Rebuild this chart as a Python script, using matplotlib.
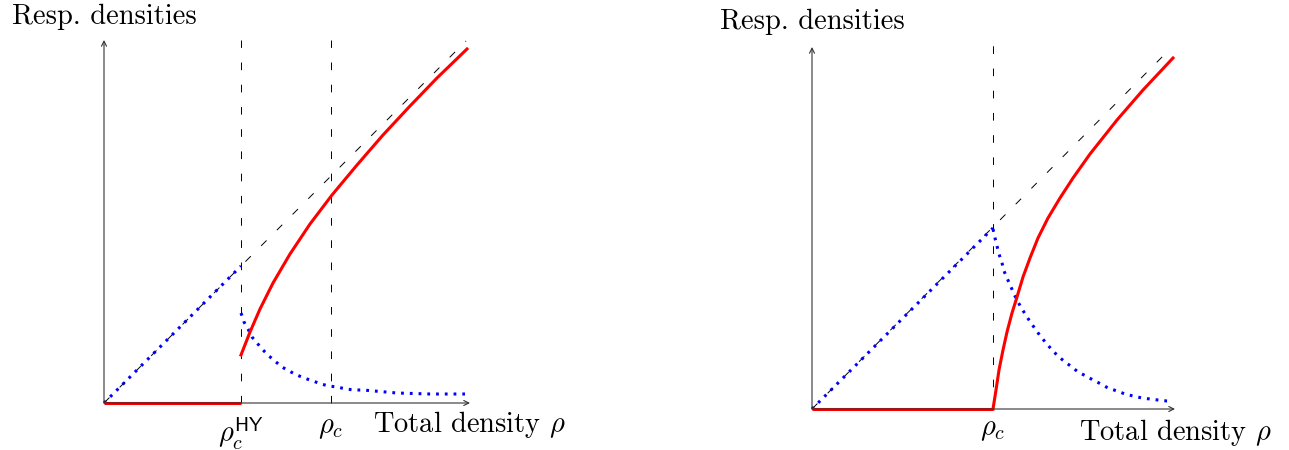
import matplotlib
matplotlib.use("Agg")
import matplotlib.pyplot as plt

plt.rcParams['mathtext.fontset'] = 'cm'
plt.rcParams['lines.scale_dashes'] = False

# ---- left panel (HY case) ----
rho_hy = 1.37
rho_c_left = 2.27
blue_rise_left_x = [0.0, 1.37]
blue_rise_left_y = [0.0, 1.37]
blue_decay_left_x = [1.37, 1.40, 1.44, 1.48, 1.53, 1.59, 1.65, 1.72, 1.78, 1.85, 1.93,
                     2.00, 2.09, 2.17, 2.25, 2.33, 2.42, 2.50, 2.59, 2.93, 3.26, 3.61]
blue_decay_left_y = [0.90, 0.81, 0.74, 0.66, 0.60, 0.53, 0.47, 0.41, 0.36, 0.32, 0.28,
                     0.25, 0.22, 0.19, 0.17, 0.16, 0.14, 0.13, 0.13, 0.10, 0.09, 0.09]
red_zero_left_x = [0.0, 1.37]
red_zero_left_y = [0.0, 0.0]
red_left_x = [1.37, 1.46, 1.56, 1.69, 1.86, 2.06, 2.28, 2.53, 2.79, 3.06, 3.33, 3.63]
red_left_y = [0.48, 0.71, 0.94, 1.20, 1.49, 1.79, 2.08, 2.38, 2.68, 2.97, 3.25, 3.54]
diag_left_x = [0.0, 3.62]
diag_left_y = [0.0, 3.62]

# ---- right panel ----
rho_c_right = 1.81
blue_rise_right_x = [0.0, 1.81]
blue_rise_right_y = [0.0, 1.81]
blue_decay_right_x = [1.81, 1.83, 1.85, 1.87, 1.90, 1.92, 1.95, 1.99, 2.02, 2.06, 2.10,
                      2.15, 2.19, 2.24, 2.29, 2.35, 2.40, 2.46, 2.53, 2.60, 2.66, 2.74,
                      2.81, 2.89, 2.96, 3.05, 3.13, 3.21, 3.30, 3.38, 3.46, 3.55, 3.61]
blue_decay_right_y = [1.80, 1.71, 1.63, 1.55, 1.46, 1.38, 1.31, 1.22, 1.15, 1.07, 1.00,
                      0.92, 0.86, 0.79, 0.72, 0.65, 0.59, 0.53, 0.47, 0.42, 0.37, 0.33,
                      0.29, 0.25, 0.21, 0.18, 0.15, 0.13, 0.11, 0.10, 0.09, 0.08, 0.08]
red_zero_right_x = [0.0, 1.81]
red_zero_right_y = [0.0, 0.0]
red_right_x = [1.81, 1.84, 1.87, 1.91, 1.95, 2.00, 2.05, 2.11, 2.18, 2.26, 2.36, 2.48,
               2.61, 2.78, 3.05, 3.31, 3.61]
red_right_y = [0.00, 0.19, 0.39, 0.59, 0.77, 0.96, 1.12, 1.32, 1.51, 1.71, 1.91, 2.11,
               2.31, 2.55, 2.89, 3.19, 3.51]
diag_right_x = [0.0, 3.60]
diag_right_y = [0.0, 3.62]

W, H = 1289, 450
fig = plt.figure(figsize=(W / 100, H / 100), dpi=100)

AXIS_COL = '#333333'
DASH = (0, (5.5, 10.5))
DOT = (0, (2.0, 4.3))
FS = 20.5


def make_panel(rect, origin_px):
    # axes where 1 data unit = 100 px, origin at given pixel
    ax = fig.add_axes(rect)
    x0 = rect[0] * W
    w = rect[2] * W
    ox, oy = origin_px
    ax.set_xlim((x0 - ox) / 100, (x0 + w - ox) / 100)
    ax.set_ylim((oy - H) / 100, oy / 100)
    ax.axis('off')
    return ax


def arrow(ax, x0, y0, x1, y1):
    ax.annotate('', xy=(x1, y1), xytext=(x0, y0),
                arrowprops=dict(arrowstyle='->', color=AXIS_COL, lw=0.8,
                                mutation_scale=9, shrinkA=0, shrinkB=0))


# left
axl = make_panel([0.0, 0.0, 0.5, 1.0], (104, 403))
for xv in [rho_hy, rho_c_left]:
    axl.plot([xv, xv], [0, 3.63], color='black', lw=0.7, linestyle=DASH)
axl.plot(diag_left_x, diag_left_y, color='black', lw=0.7, linestyle=DASH)
arrow(axl, 0, 0, 3.66, 0)
arrow(axl, 0, 0, 0, 3.63)
axl.plot(blue_rise_left_x, blue_rise_left_y, color='#0000ff', lw=2.2, linestyle=DOT)
axl.plot(blue_decay_left_x, blue_decay_left_y, color='#0000ff', lw=2.2, linestyle=DOT)
axl.plot(red_zero_left_x, red_zero_left_y, color='#ff0000', lw=2.2, solid_capstyle='butt')
axl.plot(red_left_x, red_left_y, color='#ff0000', lw=2.2)
axl.text(0, 3.86, 'Resp. densities', family='cmr10', fontsize=FS, ha='center', va='center')
axl.text(3.65, -0.21, r'Total density $\rho$', family='cmr10', fontsize=FS, ha='center', va='center')
axl.text(rho_hy, -0.13, r'$\rho_c^{\mathsf{HY}}$', fontsize=FS, ha='center', va='top')
axl.text(rho_c_left, -0.10, r'$\rho_c$', fontsize=FS, ha='center', va='top')

# right
axr = make_panel([0.5, 0.0, 0.5, 1.0], (812, 409))
axr.plot([rho_c_right, rho_c_right], [0, 3.64], color='black', lw=0.7, linestyle=DASH)
axr.plot(diag_right_x, diag_right_y, color='black', lw=0.7, linestyle=DASH)
arrow(axr, 0, 0, 3.63, 0)
arrow(axr, 0, 0, 0, 3.62)
axr.plot(blue_rise_right_x, blue_rise_right_y, color='#0000ff', lw=2.2, linestyle=DOT)
axr.plot(blue_decay_right_x, blue_decay_right_y, color='#0000ff', lw=2.2, linestyle=DOT)
axr.plot(red_zero_right_x, red_zero_right_y, color='#ff0000', lw=2.2, solid_capstyle='butt')
axr.plot(red_right_x, red_right_y, color='#ff0000', lw=2.2)
axr.text(0, 3.87, 'Resp. densities', family='cmr10', fontsize=FS, ha='center', va='center')
axr.text(3.63, -0.23, r'Total density $\rho$', family='cmr10', fontsize=FS, ha='center', va='center')
axr.text(rho_c_right, -0.06, r'$\rho_c$', fontsize=FS, ha='center', va='top')

fig.savefig('out.png', dpi=100)
